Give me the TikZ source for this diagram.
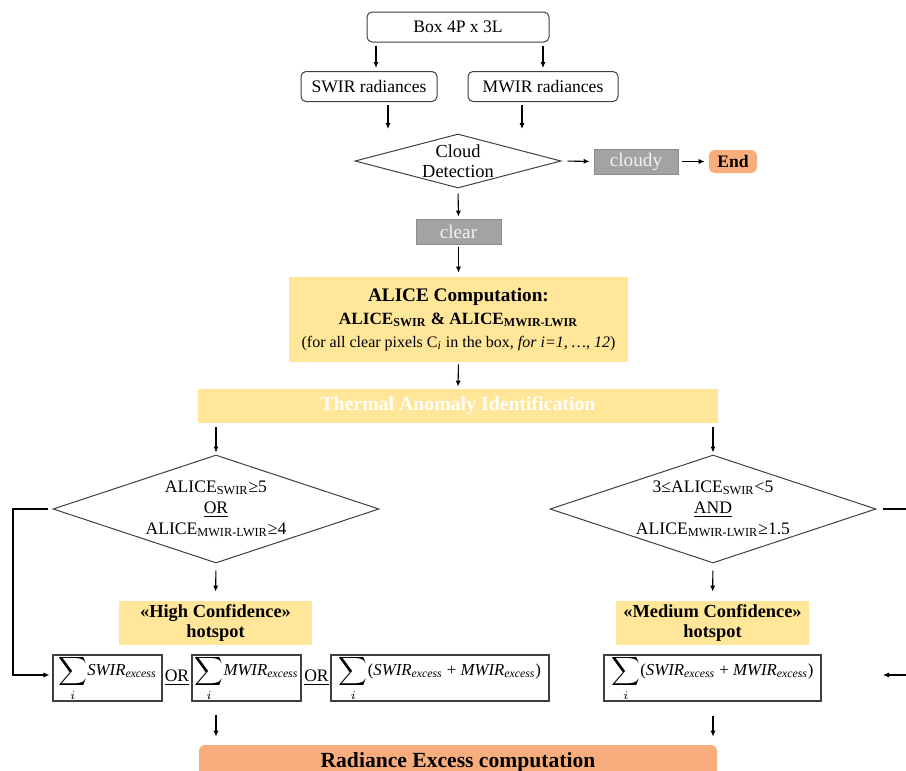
\documentclass[tikz,border=0pt]{standalone}
\usepackage{fontspec}
\setmainfont{Liberation Serif}
\usetikzlibrary{arrows.meta,shapes.geometric,calc}
\definecolor{yel}{HTML}{FFE699}
\definecolor{org}{HTML}{F8AE7C}
\definecolor{gry}{HTML}{A3A3A3}
\definecolor{gryline}{HTML}{8C8C8C}
\definecolor{edge}{HTML}{404040}
\definecolor{gtxt}{HTML}{F2F2F2}
\newcommand\mysum[1]{{\fontsize{8.7}{9}\selectfont$\displaystyle\sum_i$}{\fontsize{8.4}{10}\selectfont\itshape #1}}
\newcommand\exs{\textsubscript{\itshape excess}}
\tikzset{
  sz/.style 2 args={minimum width=#1*0.5pt, minimum height=#2*0.5pt},
  rbox/.style={draw=edge, line width=0.5pt, rounded corners=2.5pt, inner sep=0pt, fill=white},
  sbox/.style={draw=edge, line width=0.55pt, inner sep=0pt, fill=white},
  grybox/.style={draw=gryline, line width=0.4pt, fill=gry, inner sep=0pt, text=gtxt, font=\fontsize{9.6}{11}\selectfont},
  ybox/.style={fill=yel, inner sep=0pt, align=center},
  obox/.style={fill=org, rounded corners=3pt, inner sep=0pt},
  dia/.style={diamond, draw=edge, line width=0.5pt, inner sep=0pt},
  txt/.style={align=center, inner sep=0pt},
  arr/.style={-{Latex[length=3pt,width=2.6pt]}, line width=0.55pt},
  ln/.style={line width=0.55pt},
}
\begin{document}
\begin{tikzpicture}[x=0.5pt,y=-0.5pt,font=\fontsize{8.8}{10.5}\selectfont]
\useasboundingbox (0,0) rectangle (906,771);
\clip (0,0) rectangle (906,771);
% top boxes
\node[rbox, sz={182}{30}] (box) at (458,27) {Box 4P x 3L};
\node[rbox, sz={136}{30}] (swir) at (369,86.5) {SWIR radiances};
\node[rbox, sz={150}{30}] (mwir) at (543,86.5) {MWIR radiances};
% cloud detection
\node[dia, sz={206}{54}] (cloud) at (458,161) {};
\node[txt, font=\fontsize{9.2}{10.2}\selectfont] (cloudt) at (cloud.center) {Cloud\\Detection};
\node[grybox, sz={84}{25}] (cloudy) at (636,161.5) {cloudy};
\node[obox, sz={48}{23}] (end) at (733,161.5) {\textbf{End}};
\node[grybox, sz={85}{25}] (clear) at (458.5,231.5) {clear};
% ALICE
\node[ybox, sz={339}{85}] (alice) at (458.5,319.5) {%
  {\fontsize{9.6}{11}\selectfont\textbf{ALICE Computation:}}\\[1pt]
  {\fontsize{8.6}{10}\selectfont\textbf{ALICE\textsubscript{SWIR} \& ALICE\textsubscript{MWIR-LWIR}}}\\[1pt]
  {\fontsize{8}{10}\selectfont(for all clear pixels C\textsubscript{\textit{i}} in the box, \textit{for i=1, …, 12})}};
\node[ybox, sz={520}{34}, text=white, font=\fontsize{9.9}{11}\selectfont\bfseries] (therm) at (458,406) {Thermal Anomaly Identification};
% decisions
\node[dia, sz={326}{108}] (dl) at (216,509) {};
\node[txt] (dlt) at (dl.center) {ALICE\textsubscript{SWIR}≥5\\\underline{OR}\\ALICE\textsubscript{MWIR-LWIR}≥4};
\node[dia, sz={326}{108}] (dr) at (713,509) {};
\node[txt] (drt) at (dr.center) {3≤ALICE\textsubscript{SWIR}<5\\\underline{AND}\\ALICE\textsubscript{MWIR-LWIR}≥1.5};
% hotspots
\node[ybox, sz={193}{44}, font=\fontsize{9.2}{10.4}\selectfont\bfseries] (high) at (215.5,623) {«High Confidence»\\hotspot};
\node[ybox, sz={193}{44}, font=\fontsize{9.2}{10.4}\selectfont\bfseries] (med) at (712.5,623) {«Medium Confidence»\\hotspot};
% sums
\node[sbox, sz={109}{46}] (s1) at (107.5,678) {\mysum{SWIR\exs}};
\node[txt] (or1) at (177,678) {\underline{OR}};
\node[sbox, sz={109}{46}] (s2) at (246.5,678) {\mysum{MWIR\exs}};
\node[txt] (or2) at (316.5,678) {\underline{OR}};
\node[sbox, sz={218}{46}] (s3) at (440,678) {\mysum{\upshape(\itshape SWIR\exs{} \upshape+\itshape{} MWIR\exs\upshape)}};
\node[sbox, sz={217}{46}] (s4) at (712.5,678) {\mysum{\upshape(\itshape SWIR\exs{} \upshape+\itshape{} MWIR\exs\upshape)}};
% radiance
\node[obox, sz={518}{34}, font=\fontsize{10.8}{12}\selectfont\bfseries] (rad) at (458,762) {Radiance Excess computation};
% connectors
\coordinate (c1) at (388,129);
\coordinate (c2) at (522,129);
\coordinate (lc) at (13,509);
\coordinate (rc) at (930,509);
\coordinate (rc2) at (930,675);
\coordinate (ra) at (883,675);
\draw[arr, shorten <=1.5pt, shorten >=1.5pt] (376,0 |- box.south) -- (376,0 |- swir.north);
\draw[arr, shorten <=1.5pt, shorten >=1.5pt] (543,0 |- box.south) -- (543,0 |- mwir.north);
\draw[arr, shorten <=1.5pt] (388,0 |- swir.south) -- (c1);
\draw[arr, shorten <=1.5pt] (522,0 |- mwir.south) -- (c2);
\draw[arr, shorten <=3pt, shorten >=2pt] (cloud.east) -- (cloudy.west);
\draw[arr, shorten <=2pt, shorten >=2pt] (cloudy.east) -- (end.west);
\draw[arr, shorten <=2.5pt, shorten >=1pt] (cloud.south) -- (clear.north);
\draw[arr, shorten <=1.5pt, shorten >=2pt] (clear.south) -- (alice.north);
\draw[arr, shorten <=1pt, shorten >=1pt] (alice.south) -- (therm.north);
\draw[arr, shorten <=2pt, shorten >=1pt] (216,0 |- therm.south) -- (dl.north);
\draw[arr, shorten <=2pt, shorten >=1pt] (713,0 |- therm.south) -- (dr.north);
\draw[arr, shorten <=3.5pt, shorten >=4.5pt] (dl.south) -- (high.north);
\draw[arr, shorten <=3.5pt, shorten >=4.5pt] (dr.south) -- (med.north);
\draw[arr, shorten >=1.5pt] ([xshift=-2.5pt]dl.west) -- (lc) |- ([yshift=1.5pt]s1.west);
\draw[ln] ([xshift=3pt]dr.east) -- (rc) -- (rc2);
\draw[arr] (rc2) -- (ra);
\draw[arr, shorten <=6.5pt, shorten >=4pt] (216,0 |- s2.south) -- (216,0 |- rad.north);
\draw[arr, shorten <=7pt, shorten >=4pt] (713,0 |- s4.south) -- (713,0 |- rad.north);
\end{tikzpicture}
\end{document}
